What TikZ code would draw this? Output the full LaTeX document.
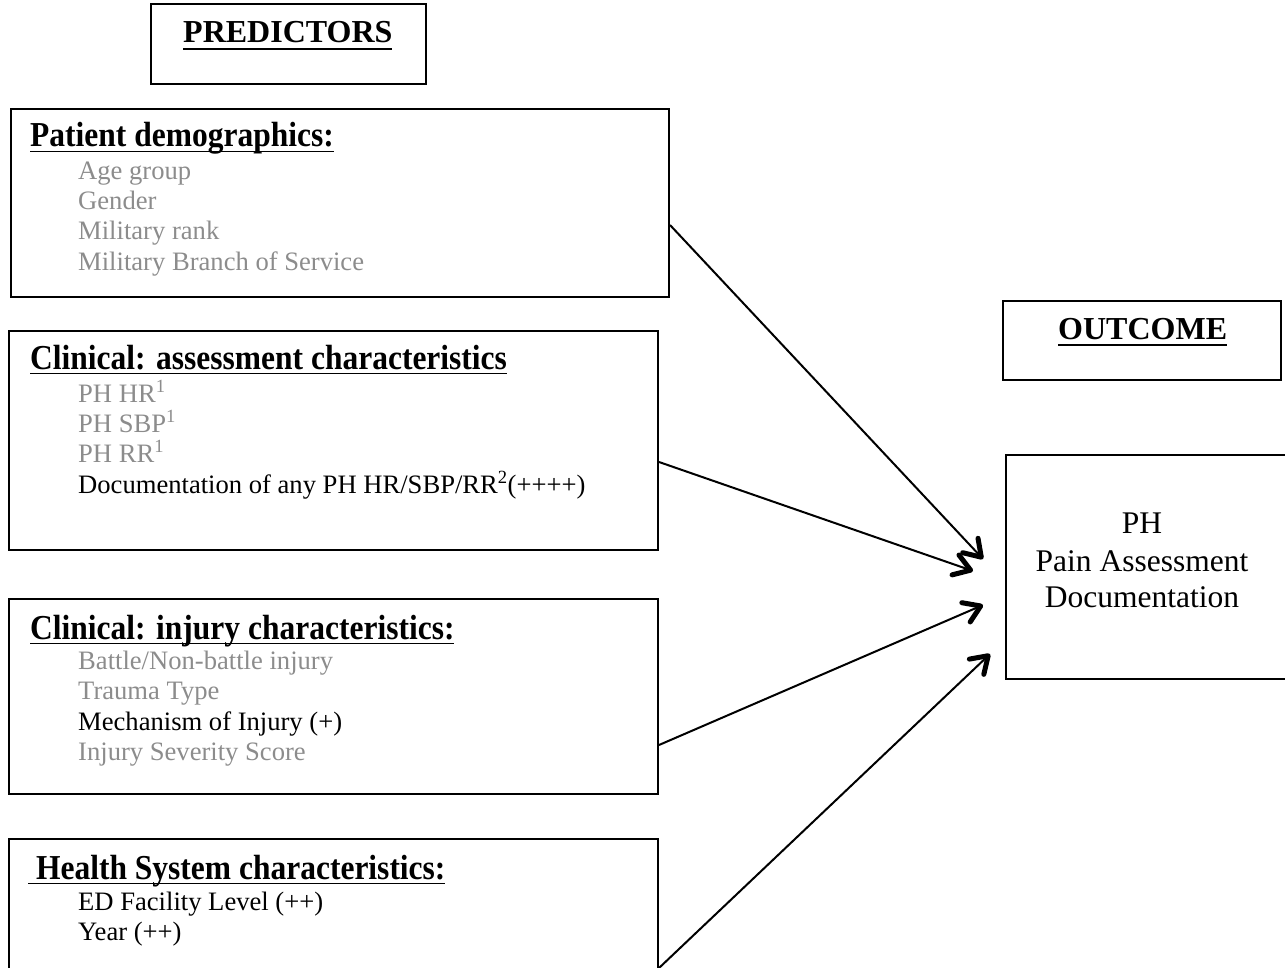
\documentclass[tikz,border=0pt]{standalone}
\usepackage{fontspec}
\setmainfont{Liberation Serif}
\newfontfamily\headfont[FakeStretch=0.9]{Liberation Serif}
\usetikzlibrary{arrows.meta}
\definecolor{itemgray}{gray}{0.55}
% underlined heading: rule drawn at a fixed depth below the baseline
\newcommand\ulhead[2][5.4pt]{\setbox0\hbox{#2}\rlap{\rule[-#1]{\wd0}{1.8pt}}\box0}
\tikzset{
  box/.style={draw=black, line width=2pt, inner sep=0pt, anchor=north west},
  txt/.style={inner sep=0pt, anchor=base west, font=\fontsize{26.6}{30}\selectfont},
  gtxt/.style={txt, text=itemgray},
  head/.style={inner sep=0pt, anchor=base west, font=\headfont\bfseries\fontsize{35}{40}\selectfont},
  title/.style={inner sep=0pt, anchor=base west, font=\bfseries\fontsize{32}{36}\selectfont},
  outtxt/.style={inner sep=0pt, anchor=base, font=\fontsize{31.5}{36}\selectfont},
  link/.style={line width=2pt, -{Straight Barb[length=16pt,width=21pt,line width=5pt,round]}}
}
\begin{document}
\begin{tikzpicture}[x=1pt,y=-1pt]
\useasboundingbox (0,0) rectangle (1285,968);
\clip (0,0) rectangle (1285,968);

% frames
\node[box, minimum width=275pt, minimum height=80pt] (pr) at (150,3) {};
\node[box, minimum width=658pt, minimum height=188pt] (pd) at (10,108) {};
\node[box, minimum width=649pt, minimum height=219pt] (ca) at (8,330) {};
\node[box, minimum width=649pt, minimum height=195pt] (ij) at (8,598) {};
\node[box, minimum width=649pt, minimum height=160pt] (hs) at (8,838) {};
\node[box, minimum width=278pt, minimum height=79pt] (oc) at (1002,300) {};
\node[box, minimum width=300pt, minimum height=224pt] (ph) at (1005,454) {};

% section titles
\node[title] (prt) at (183,43) {\ulhead[7pt]{PREDICTORS}};
\node[title] (oct) at (1058,339) {\ulhead[7pt]{OUTCOME}};

% patient demographics
\node[head] (pdh) at (30,147) {\ulhead{Patient demographics:}};
\node[gtxt] (pd1) at (78,180) {Age group};
\node[gtxt] (pd2) at (78,210) {Gender};
\node[gtxt] (pd3) at (78,240) {Military rank};
\node[gtxt] (pd4) at (78,271) {Military Branch of Service};

% clinical assessment
\node[head] (cah) at (30,369) {\ulhead{Clinical: assessment characteristics}};
\node[gtxt] (ca1) at (78,402) {PH HR\textsuperscript{1}};
\node[gtxt] (ca2) at (78,432) {PH SBP\textsuperscript{1}};
\node[gtxt] (ca3) at (78,462) {PH RR\textsuperscript{1}};
\node[txt] (ca4) at (78,493) {Documentation of any PH HR/SBP/RR\textsuperscript{2}(++++)};

% clinical injury
\node[head] (ijh) at (30,639) {\ulhead{Clinical: injury characteristics:}};
\node[gtxt] (ij1) at (78,669) {Battle/Non-battle injury};
\node[gtxt] (ij2) at (78,699) {Trauma Type};
\node[txt] (ij3) at (78,730) {Mechanism of Injury (+)};
\node[gtxt] (ij4) at (78,760) {Injury Severity Score};

% health system
\node[head] (hsh) at (28,879) {\ulhead{\ Health System characteristics:}};
\node[txt] (hs1) at (78,910) {ED Facility Level (++)};
\node[txt] (hs2) at (78,940) {Year (++)};

% outcome
\node[outtxt] (ph1) at (1142,533) {PH};
\node[outtxt] (ph2) at (1142,571) {Pain Assessment};
\node[outtxt] (ph3) at (1142,607) {Documentation};

% connectors
\draw[link] ([yshift=-117pt]pd.north east) -- ([xshift=-22pt,yshift=8pt]ph.west);
\draw[link] ([yshift=-132pt]ca.north east) -- ([xshift=-32pt,yshift=-4pt]ph.west);
\draw[link] ([yshift=-147pt]ij.north east) -- ([xshift=-22pt,yshift=-38pt]ph.west);
\draw[link] ([yshift=-130pt]hs.north east) -- ([xshift=-15pt,yshift=-87pt]ph.west);
\end{tikzpicture}
\end{document}
